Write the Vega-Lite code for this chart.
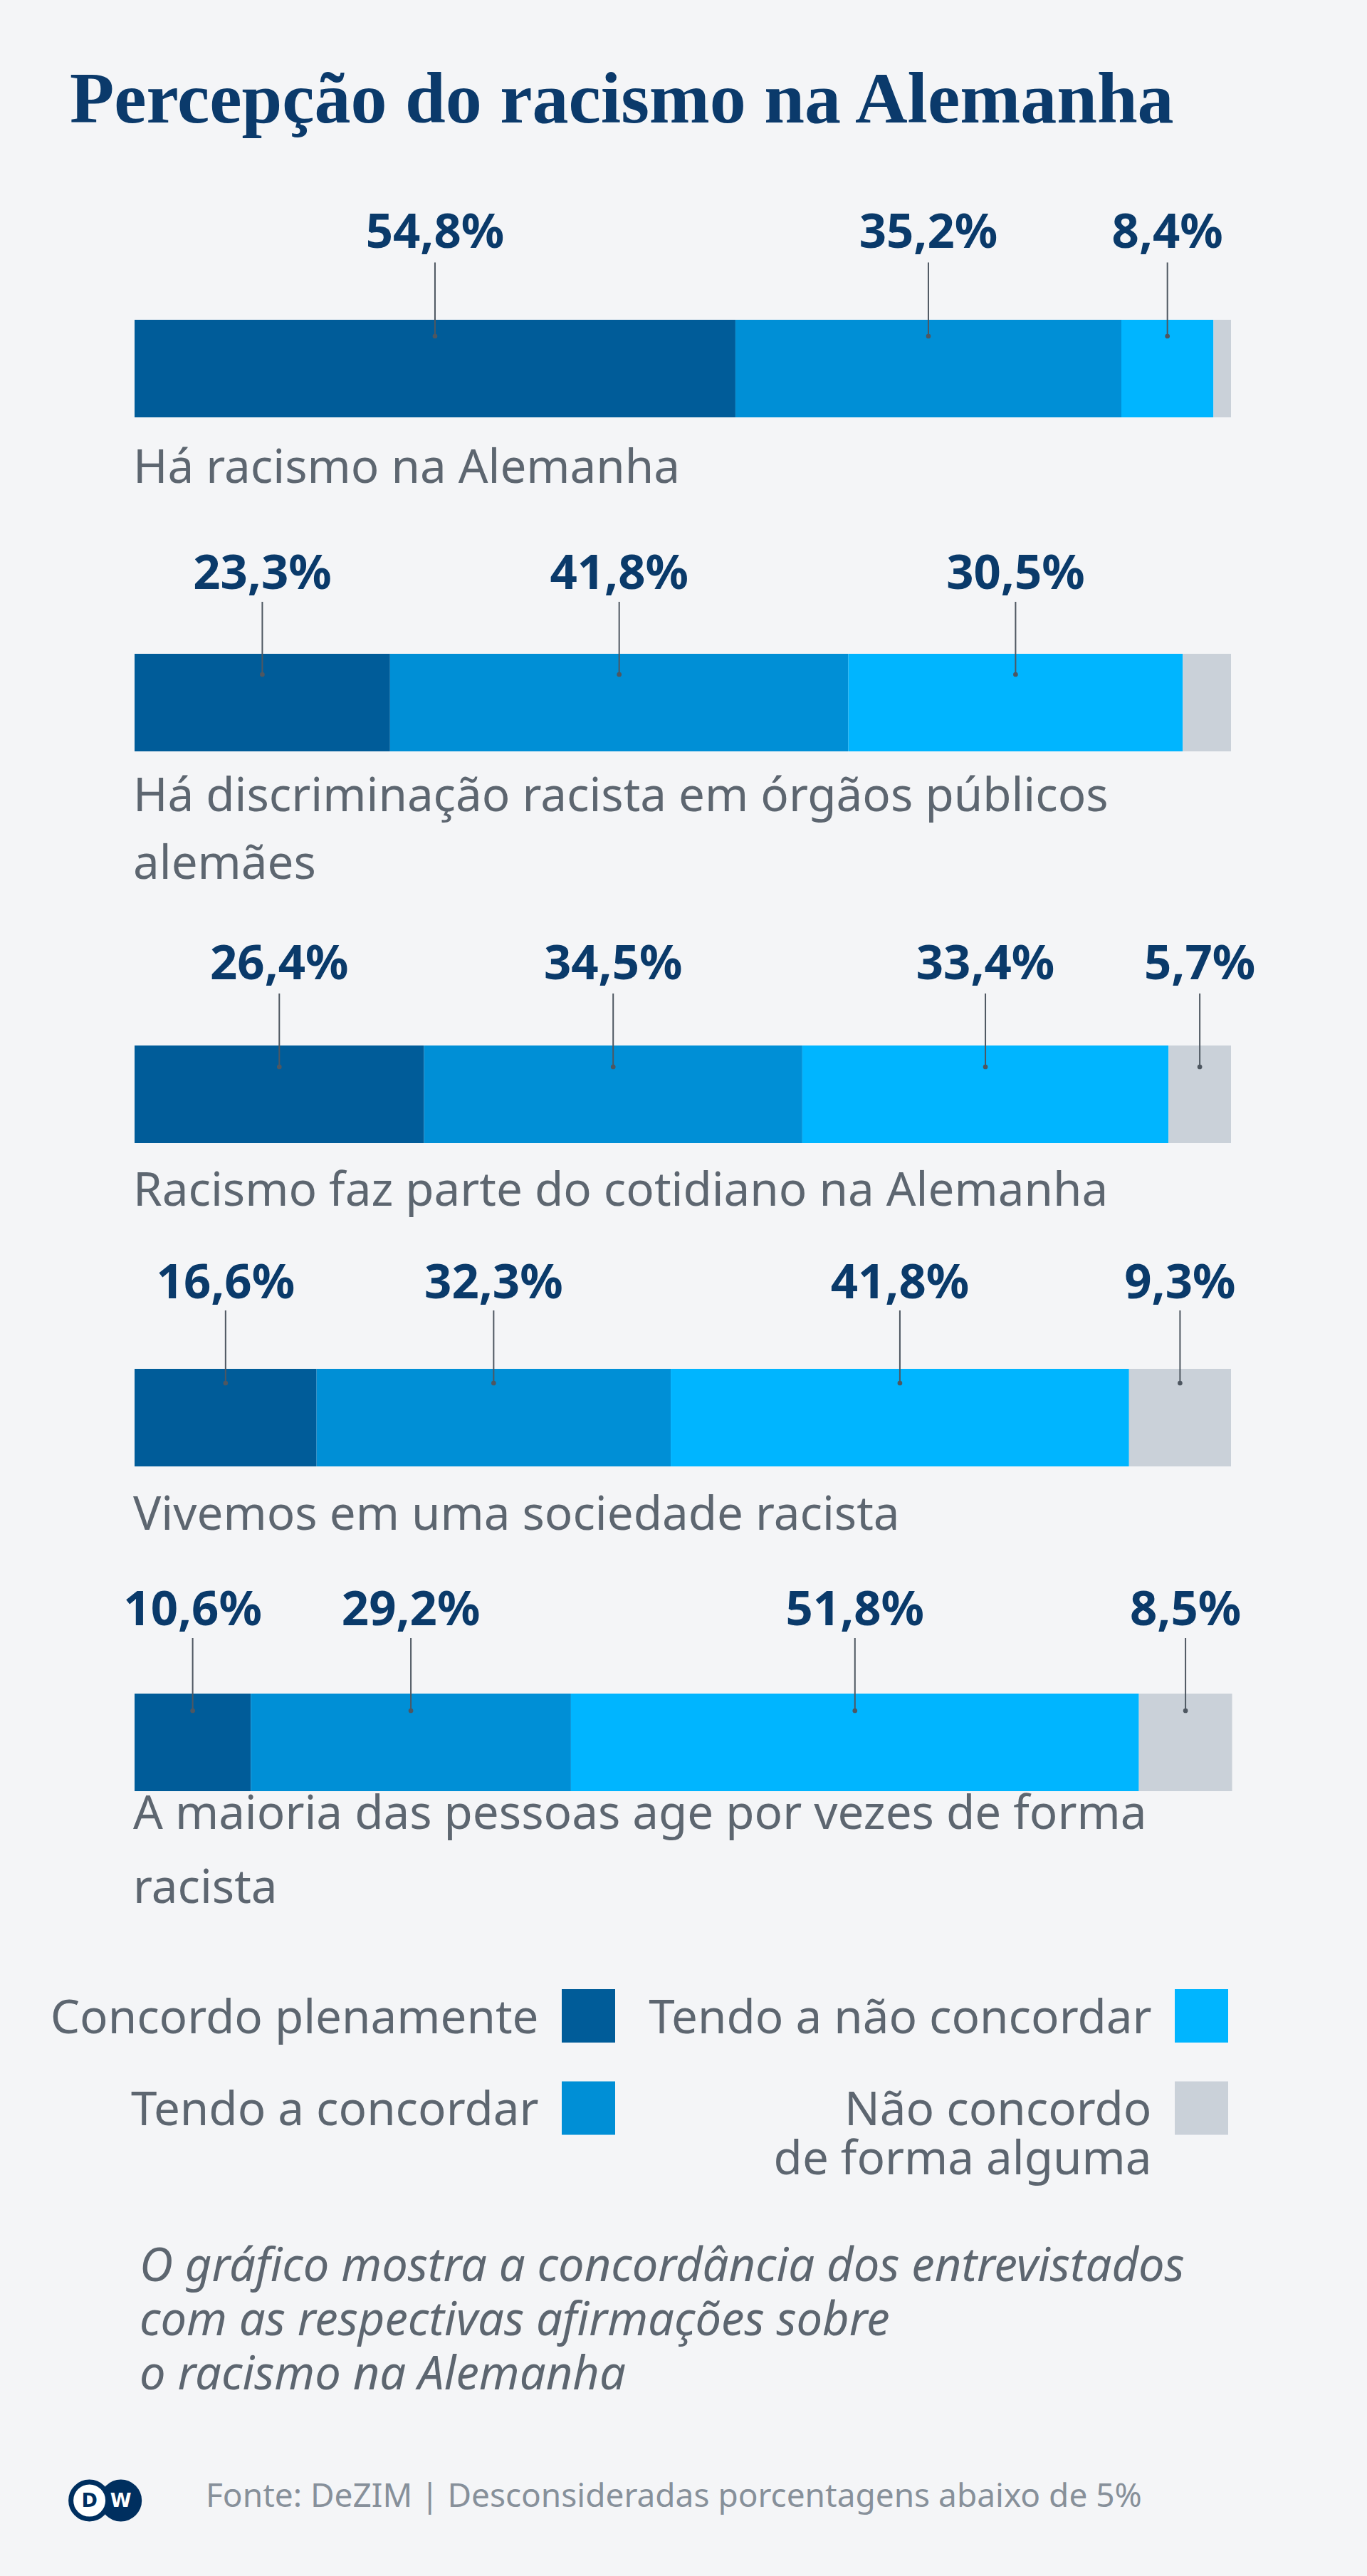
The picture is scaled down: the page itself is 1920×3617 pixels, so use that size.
{
  "$schema": "https://vega.github.io/schema/vega-lite/v6.json",
  "background": "#f4f5f7",
  "padding": {"top": 90, "left": 0, "right": 0, "bottom": 52},
  "title": {
    "text": "Percepção do racismo na Alemanha",
    "anchor": "start",
    "frame": "group",
    "dx": 98,
    "offset": 0,
    "font": "Liberation Serif",
    "fontWeight": "bold",
    "fontSize": 102,
    "color": "#0b3a6b"
  },
  "config": {"view": {"stroke": null}},
  "bounds": "flush",
  "spacing": 0,
  "resolve": {"scale": {"x": "independent", "y": "independent", "color": "shared"}},
  "datasets": {
    "responses": [
      {"statement": "Há racismo na Alemanha", "response": "Concordo plenamente", "order": 1, "pct": 54.8},
      {"statement": "Há racismo na Alemanha", "response": "Tendo a concordar", "order": 2, "pct": 35.2},
      {"statement": "Há racismo na Alemanha", "response": "Tendo a não concordar", "order": 3, "pct": 8.4},
      {"statement": "Há racismo na Alemanha", "response": "Não concordo de forma alguma", "order": 4, "pct": 1.6},
      {"statement": "Há discriminação racista em órgãos públicos alemães", "response": "Concordo plenamente", "order": 1, "pct": 23.3},
      {"statement": "Há discriminação racista em órgãos públicos alemães", "response": "Tendo a concordar", "order": 2, "pct": 41.8},
      {"statement": "Há discriminação racista em órgãos públicos alemães", "response": "Tendo a não concordar", "order": 3, "pct": 30.5},
      {"statement": "Há discriminação racista em órgãos públicos alemães", "response": "Não concordo de forma alguma", "order": 4, "pct": 4.4},
      {"statement": "Racismo faz parte do cotidiano na Alemanha", "response": "Concordo plenamente", "order": 1, "pct": 26.4},
      {"statement": "Racismo faz parte do cotidiano na Alemanha", "response": "Tendo a concordar", "order": 2, "pct": 34.5},
      {"statement": "Racismo faz parte do cotidiano na Alemanha", "response": "Tendo a não concordar", "order": 3, "pct": 33.4},
      {"statement": "Racismo faz parte do cotidiano na Alemanha", "response": "Não concordo de forma alguma", "order": 4, "pct": 5.7},
      {"statement": "Vivemos em uma sociedade racista", "response": "Concordo plenamente", "order": 1, "pct": 16.6},
      {"statement": "Vivemos em uma sociedade racista", "response": "Tendo a concordar", "order": 2, "pct": 32.3},
      {"statement": "Vivemos em uma sociedade racista", "response": "Tendo a não concordar", "order": 3, "pct": 41.8},
      {"statement": "Vivemos em uma sociedade racista", "response": "Não concordo de forma alguma", "order": 4, "pct": 9.3},
      {"statement": "A maioria das pessoas age por vezes de forma racista", "response": "Concordo plenamente", "order": 1, "pct": 10.6},
      {"statement": "A maioria das pessoas age por vezes de forma racista", "response": "Tendo a concordar", "order": 2, "pct": 29.2},
      {"statement": "A maioria das pessoas age por vezes de forma racista", "response": "Tendo a não concordar", "order": 3, "pct": 51.8},
      {"statement": "A maioria das pessoas age por vezes de forma racista", "response": "Não concordo de forma alguma", "order": 4, "pct": 8.5}
    ],
    "statements": [
      {"statement": "Há racismo na Alemanha", "label": "Há racismo na Alemanha"},
      {"statement": "Há discriminação racista em órgãos públicos alemães", "label": "Há discriminação racista em órgãos públicos\nalemães"},
      {"statement": "Racismo faz parte do cotidiano na Alemanha", "label": "Racismo faz parte do cotidiano na Alemanha"},
      {"statement": "Vivemos em uma sociedade racista", "label": "Vivemos em uma sociedade racista"},
      {"statement": "A maioria das pessoas age por vezes de forma racista", "label": "A maioria das pessoas age por vezes de forma\nracista"}
    ],
    "legend": [
      {"response": "Concordo plenamente", "label": "Concordo plenamente", "order": 1},
      {"response": "Tendo a concordar", "label": "Tendo a concordar", "order": 2},
      {"response": "Tendo a não concordar", "label": "Tendo a não concordar", "order": 3},
      {"response": "Não concordo de forma alguma", "label": "Não concordo\nde forma alguma", "order": 4}
    ],
    "logo": [
      {"letter": "D"},
      {"letter": "W"}
    ],
    "notes": [
      {"note": "O gráfico mostra a concordância dos entrevistados\ncom as respectivas afirmações sobre\no racismo na Alemanha", "source": "Fonte: DeZIM | Desconsideradas porcentagens abaixo de 5%"}
    ]
  },
  "vconcat": [
    {
      "width": 1920, "height": 545,
      "data": {"name": "responses"},
      "transform": [
        {"filter": "datum.statement === 'Há racismo na Alemanha'"},
        {"stack": "pct", "groupby": ["statement"], "sort": [{"field": "order", "order": "ascending"}], "as": ["x0", "x1"]},
        {"calculate": "(datum.x0 + datum.x1) / 2", "as": "mid"},
        {"calculate": "replace(format(datum.pct, '.1f'), '.', ',') + '%'", "as": "pctLabel"}
      ],
      "encoding": {
        "y": {"field": "statement", "type": "nominal", "axis": null, "scale": {"range": [256, 393], "paddingInner": 0, "paddingOuter": 0}}
      },
      "layer": [
        {"mark": {"type": "bar", "stroke": null},
         "encoding": {
           "x": {"field": "x0", "type": "quantitative", "axis": null, "scale": {"domain": [0, 100], "range": [189, 1729], "nice": false, "zero": false}},
           "x2": {"field": "x1"},
           "color": {"field": "response", "type": "nominal", "legend": null, "scale": {"domain": ["Concordo plenamente", "Tendo a concordar", "Tendo a não concordar", "Não concordo de forma alguma"], "range": ["#005c99", "#008fd6", "#00b5ff", "#cad1d9"]}}
         }},
        {"transform": [{"filter": "datum.pct >= 5"}],
         "mark": {"type": "tick", "orient": "vertical", "size": 103, "thickness": 2, "yOffset": -97.5, "color": "#4e5761", "opacity": 1},
         "encoding": {"x": {"field": "mid", "type": "quantitative"}}},
        {"transform": [{"filter": "datum.pct >= 5"}],
         "mark": {"type": "point", "shape": "circle", "filled": true, "size": 45, "yOffset": -45.5, "color": "#4e5761", "opacity": 1},
         "encoding": {"x": {"field": "mid", "type": "quantitative"}}},
        {"transform": [{"filter": "datum.pct >= 5"}],
         "mark": {"type": "text", "baseline": "alphabetic", "align": "center", "dy": -169.5, "font": "Noto Sans", "fontSize": 67, "fontWeight": "bold", "color": "#0a3a6a"},
         "encoding": {"x": {"field": "mid", "type": "quantitative"}, "text": {"field": "pctLabel"}}},
        {"transform": [{"filter": "datum.order === 1"}, {"lookup": "statement", "from": {"data": {"name": "statements"}, "key": "statement", "fields": ["label"]}}],
         "mark": {"type": "text", "align": "left", "baseline": "alphabetic", "dx": -2, "dy": 160.5, "font": "Noto Sans", "fontSize": 65.5, "color": "#5d6670", "lineBreak": "\n", "lineHeight": 95},
         "encoding": {"x": {"datum": 0}, "text": {"field": "label"}}}
      ]
    },
    {
      "width": 1920, "height": 550,
      "data": {"name": "responses"},
      "transform": [
        {"filter": "datum.statement === 'Há discriminação racista em órgãos públicos alemães'"},
        {"stack": "pct", "groupby": ["statement"], "sort": [{"field": "order", "order": "ascending"}], "as": ["x0", "x1"]},
        {"calculate": "(datum.x0 + datum.x1) / 2", "as": "mid"},
        {"calculate": "replace(format(datum.pct, '.1f'), '.', ',') + '%'", "as": "pctLabel"}
      ],
      "encoding": {
        "y": {"field": "statement", "type": "nominal", "axis": null, "scale": {"range": [180, 317], "paddingInner": 0, "paddingOuter": 0}}
      },
      "layer": [
        {"mark": {"type": "bar", "stroke": null},
         "encoding": {
           "x": {"field": "x0", "type": "quantitative", "axis": null, "scale": {"domain": [0, 100], "range": [189, 1729], "nice": false, "zero": false}},
           "x2": {"field": "x1"},
           "color": {"field": "response", "type": "nominal", "legend": null, "scale": {"domain": ["Concordo plenamente", "Tendo a concordar", "Tendo a não concordar", "Não concordo de forma alguma"], "range": ["#005c99", "#008fd6", "#00b5ff", "#cad1d9"]}}
         }},
        {"transform": [{"filter": "datum.pct >= 5"}],
         "mark": {"type": "tick", "orient": "vertical", "size": 103, "thickness": 2, "yOffset": -90, "color": "#4e5761", "opacity": 1},
         "encoding": {"x": {"field": "mid", "type": "quantitative"}}},
        {"transform": [{"filter": "datum.pct >= 5"}],
         "mark": {"type": "point", "shape": "circle", "filled": true, "size": 45, "yOffset": -39.5, "color": "#4e5761", "opacity": 1},
         "encoding": {"x": {"field": "mid", "type": "quantitative"}}},
        {"transform": [{"filter": "datum.pct >= 5"}],
         "mark": {"type": "text", "baseline": "alphabetic", "align": "center", "dy": -159.5, "font": "Noto Sans", "fontSize": 67, "fontWeight": "bold", "color": "#0a3a6a"},
         "encoding": {"x": {"field": "mid", "type": "quantitative"}, "text": {"field": "pctLabel"}}},
        {"transform": [{"filter": "datum.order === 1"}, {"lookup": "statement", "from": {"data": {"name": "statements"}, "key": "statement", "fields": ["label"]}}],
         "mark": {"type": "text", "align": "left", "baseline": "alphabetic", "dx": -2, "dy": 152.5, "font": "Noto Sans", "fontSize": 65.5, "color": "#5d6670", "lineBreak": "\n", "lineHeight": 95},
         "encoding": {"x": {"datum": 0}, "text": {"field": "label"}}}
      ]
    },
    {
      "width": 1920, "height": 454,
      "data": {"name": "responses"},
      "transform": [
        {"filter": "datum.statement === 'Racismo faz parte do cotidiano na Alemanha'"},
        {"stack": "pct", "groupby": ["statement"], "sort": [{"field": "order", "order": "ascending"}], "as": ["x0", "x1"]},
        {"calculate": "(datum.x0 + datum.x1) / 2", "as": "mid"},
        {"calculate": "replace(format(datum.pct, '.1f'), '.', ',') + '%'", "as": "pctLabel"}
      ],
      "encoding": {
        "y": {"field": "statement", "type": "nominal", "axis": null, "scale": {"range": [180, 317], "paddingInner": 0, "paddingOuter": 0}}
      },
      "layer": [
        {"mark": {"type": "bar", "stroke": null},
         "encoding": {
           "x": {"field": "x0", "type": "quantitative", "axis": null, "scale": {"domain": [0, 100], "range": [189, 1729], "nice": false, "zero": false}},
           "x2": {"field": "x1"},
           "color": {"field": "response", "type": "nominal", "legend": null, "scale": {"domain": ["Concordo plenamente", "Tendo a concordar", "Tendo a não concordar", "Não concordo de forma alguma"], "range": ["#005c99", "#008fd6", "#00b5ff", "#cad1d9"]}}
         }},
        {"transform": [{"filter": "datum.pct >= 5"}],
         "mark": {"type": "tick", "orient": "vertical", "size": 103, "thickness": 2, "yOffset": -90, "color": "#4e5761", "opacity": 1},
         "encoding": {"x": {"field": "mid", "type": "quantitative"}}},
        {"transform": [{"filter": "datum.pct >= 5"}],
         "mark": {"type": "point", "shape": "circle", "filled": true, "size": 45, "yOffset": -38.5, "color": "#4e5761", "opacity": 1},
         "encoding": {"x": {"field": "mid", "type": "quantitative"}}},
        {"transform": [{"filter": "datum.pct >= 5"}],
         "mark": {"type": "text", "baseline": "alphabetic", "align": "center", "dy": -161.5, "font": "Noto Sans", "fontSize": 67, "fontWeight": "bold", "color": "#0a3a6a"},
         "encoding": {"x": {"field": "mid", "type": "quantitative"}, "text": {"field": "pctLabel"}}},
        {"transform": [{"filter": "datum.order === 1"}, {"lookup": "statement", "from": {"data": {"name": "statements"}, "key": "statement", "fields": ["label"]}}],
         "mark": {"type": "text", "align": "left", "baseline": "alphabetic", "dx": -2, "dy": 156.5, "font": "Noto Sans", "fontSize": 65.5, "color": "#5d6670", "lineBreak": "\n", "lineHeight": 95},
         "encoding": {"x": {"datum": 0}, "text": {"field": "label"}}}
      ]
    },
    {
      "width": 1920, "height": 456,
      "data": {"name": "responses"},
      "transform": [
        {"filter": "datum.statement === 'Vivemos em uma sociedade racista'"},
        {"stack": "pct", "groupby": ["statement"], "sort": [{"field": "order", "order": "ascending"}], "as": ["x0", "x1"]},
        {"calculate": "(datum.x0 + datum.x1) / 2", "as": "mid"},
        {"calculate": "replace(format(datum.pct, '.1f'), '.', ',') + '%'", "as": "pctLabel"}
      ],
      "encoding": {
        "y": {"field": "statement", "type": "nominal", "axis": null, "scale": {"range": [180, 317], "paddingInner": 0, "paddingOuter": 0}}
      },
      "layer": [
        {"mark": {"type": "bar", "stroke": null},
         "encoding": {
           "x": {"field": "x0", "type": "quantitative", "axis": null, "scale": {"domain": [0, 100], "range": [189, 1729], "nice": false, "zero": false}},
           "x2": {"field": "x1"},
           "color": {"field": "response", "type": "nominal", "legend": null, "scale": {"domain": ["Concordo plenamente", "Tendo a concordar", "Tendo a não concordar", "Não concordo de forma alguma"], "range": ["#005c99", "#008fd6", "#00b5ff", "#cad1d9"]}}
         }},
        {"transform": [{"filter": "datum.pct >= 5"}],
         "mark": {"type": "tick", "orient": "vertical", "size": 103, "thickness": 2, "yOffset": -99, "color": "#4e5761", "opacity": 1},
         "encoding": {"x": {"field": "mid", "type": "quantitative"}}},
        {"transform": [{"filter": "datum.pct >= 5"}],
         "mark": {"type": "point", "shape": "circle", "filled": true, "size": 45, "yOffset": -48.5, "color": "#4e5761", "opacity": 1},
         "encoding": {"x": {"field": "mid", "type": "quantitative"}}},
        {"transform": [{"filter": "datum.pct >= 5"}],
         "mark": {"type": "text", "baseline": "alphabetic", "align": "center", "dy": -167.5, "font": "Noto Sans", "fontSize": 67, "fontWeight": "bold", "color": "#0a3a6a"},
         "encoding": {"x": {"field": "mid", "type": "quantitative"}, "text": {"field": "pctLabel"}}},
        {"transform": [{"filter": "datum.order === 1"}, {"lookup": "statement", "from": {"data": {"name": "statements"}, "key": "statement", "fields": ["label"]}}],
         "mark": {"type": "text", "align": "left", "baseline": "alphabetic", "dx": -2, "dy": 157.5, "font": "Noto Sans", "fontSize": 65.5, "color": "#5d6670", "lineBreak": "\n", "lineHeight": 95},
         "encoding": {"x": {"datum": 0}, "text": {"field": "label"}}}
      ]
    },
    {
      "width": 1920, "height": 543,
      "data": {"name": "responses"},
      "transform": [
        {"filter": "datum.statement === 'A maioria das pessoas age por vezes de forma racista'"},
        {"stack": "pct", "groupby": ["statement"], "sort": [{"field": "order", "order": "ascending"}], "as": ["x0", "x1"]},
        {"calculate": "(datum.x0 + datum.x1) / 2", "as": "mid"},
        {"calculate": "replace(format(datum.pct, '.1f'), '.', ',') + '%'", "as": "pctLabel"}
      ],
      "encoding": {
        "y": {"field": "statement", "type": "nominal", "axis": null, "scale": {"range": [180, 317], "paddingInner": 0, "paddingOuter": 0}}
      },
      "layer": [
        {"mark": {"type": "bar", "stroke": null},
         "encoding": {
           "x": {"field": "x0", "type": "quantitative", "axis": null, "scale": {"domain": [0, 100], "range": [189, 1729], "nice": false, "zero": false}},
           "x2": {"field": "x1"},
           "color": {"field": "response", "type": "nominal", "legend": null, "scale": {"domain": ["Concordo plenamente", "Tendo a concordar", "Tendo a não concordar", "Não concordo de forma alguma"], "range": ["#005c99", "#008fd6", "#00b5ff", "#cad1d9"]}}
         }},
        {"transform": [{"filter": "datum.pct >= 5"}],
         "mark": {"type": "tick", "orient": "vertical", "size": 103, "thickness": 2, "yOffset": -95, "color": "#4e5761", "opacity": 1},
         "encoding": {"x": {"field": "mid", "type": "quantitative"}}},
        {"transform": [{"filter": "datum.pct >= 5"}],
         "mark": {"type": "point", "shape": "circle", "filled": true, "size": 45, "yOffset": -44.5, "color": "#4e5761", "opacity": 1},
         "encoding": {"x": {"field": "mid", "type": "quantitative"}}},
        {"transform": [{"filter": "datum.pct >= 5"}],
         "mark": {"type": "text", "baseline": "alphabetic", "align": "center", "dy": -164.5, "font": "Noto Sans", "fontSize": 67, "fontWeight": "bold", "color": "#0a3a6a"},
         "encoding": {"x": {"field": "mid", "type": "quantitative"}, "text": {"field": "pctLabel"}}},
        {"transform": [{"filter": "datum.order === 1"}, {"lookup": "statement", "from": {"data": {"name": "statements"}, "key": "statement", "fields": ["label"]}}],
         "mark": {"type": "text", "align": "left", "baseline": "alphabetic", "dx": -2, "dy": 121.5, "font": "Noto Sans", "fontSize": 65.5, "color": "#5d6670", "lineBreak": "\n", "lineHeight": 104},
         "encoding": {"x": {"datum": 0}, "text": {"field": "label"}}}
      ]
    },
    {
      "width": 1920, "height": 715,
      "data": {"name": "legend"},
      "transform": [
        {"calculate": "floor((datum.order - 1) / 2)", "as": "col"},
        {"calculate": "(datum.order - 1) % 2", "as": "row"}
      ],
      "encoding": {
        "x": {"field": "col", "type": "quantitative", "axis": null, "scale": {"domain": [0, 1], "range": [826.5, 1687.5], "nice": false, "zero": false}},
        "y": {"field": "row", "type": "quantitative", "axis": null, "scale": {"domain": [0, 1], "range": [89.5, 219], "nice": false, "zero": false}}
      },
      "layer": [
        {"mark": {"type": "point", "shape": "square", "filled": true, "size": 5625, "opacity": 1, "strokeWidth": 0},
         "encoding": {"color": {"field": "response", "type": "nominal", "legend": null, "scale": {"domain": ["Concordo plenamente", "Tendo a concordar", "Tendo a não concordar", "Não concordo de forma alguma"], "range": ["#005c99", "#008fd6", "#00b5ff", "#cad1d9"]}}}},
        {"mark": {"type": "text", "align": "right", "baseline": "alphabetic", "dx": -70, "dy": 24, "font": "Noto Sans", "fontSize": 65.5, "color": "#5d6670", "lineBreak": "\n", "lineHeight": 69},
         "encoding": {"text": {"field": "label"}}}
      ]
    },
    {
      "width": 1920, "height": 110,
      "data": {"name": "logo"},
      "encoding": {
        "x": {"field": "letter", "type": "nominal", "axis": null, "scale": {"domain": ["D", "W"], "range": [125.6, 169.7], "padding": 0}}
      },
      "layer": [
        {"transform": [{"filter": "datum.letter === 'W'"}],
         "mark": {"type": "point", "shape": "circle", "filled": true, "size": 3481, "color": "#002f5f", "opacity": 1, "strokeWidth": 0}},
        {"transform": [{"filter": "datum.letter === 'D'"}],
         "mark": {"type": "point", "shape": "circle", "filled": true, "size": 2704, "fill": "#ffffff", "stroke": "#002f5f", "strokeWidth": 7, "opacity": 1}},
        {"mark": {"type": "text", "font": "DejaVu Sans", "fontWeight": "bold", "fontSize": 27, "baseline": "middle", "align": "center", "dy": 1},
         "encoding": {"text": {"field": "letter"}, "color": {"condition": {"test": "datum.letter === 'D'", "value": "#002f5f"}, "value": "#ffffff"}}},
        {"data": {"name": "notes"},
         "mark": {"type": "text", "align": "left", "baseline": "alphabetic", "dx": 119.3, "dy": 9, "font": "Noto Sans", "fontSize": 46, "color": "#87909a"},
         "encoding": {"x": {"datum": "W"}, "text": {"field": "source"}}},
        {"data": {"name": "notes"},
         "mark": {"type": "text", "align": "left", "baseline": "alphabetic", "dx": 70.4, "dy": -308, "font": "Noto Sans", "fontStyle": "italic", "fontSize": 65, "color": "#5d6670", "lineBreak": "\n", "lineHeight": 76},
         "encoding": {"x": {"datum": "D"}, "text": {"field": "note"}}}
      ]
    }
  ]
}
